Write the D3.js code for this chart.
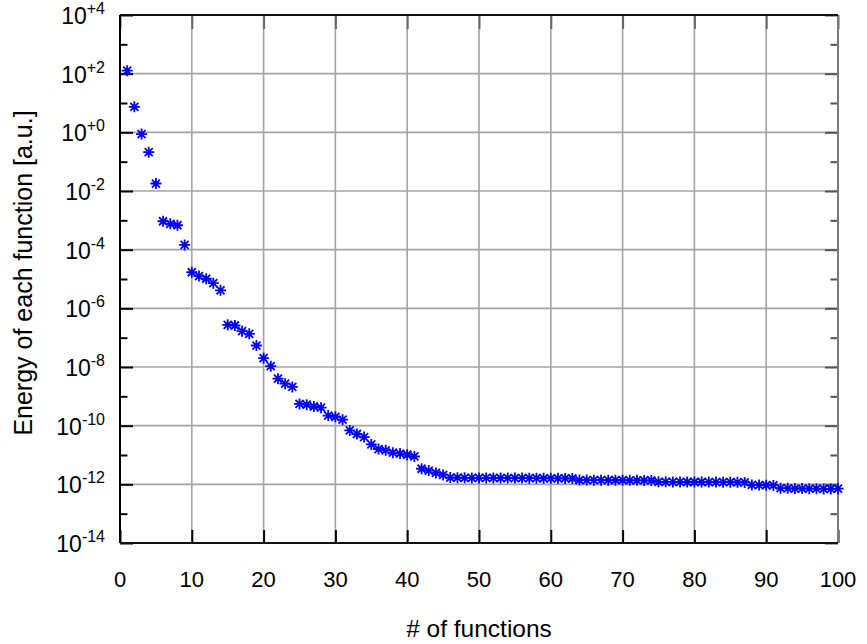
<!DOCTYPE html>
<html>
<head>
<meta charset="utf-8">
<script src="https://cdn.jsdelivr.net/npm/d3@7"></script>
<style>
  html, body { margin: 0; padding: 0; background: #fff; }
  svg { display: block; }
  text { font-family: "Liberation Sans", Arial, Helvetica, sans-serif; fill: #000; }
</style>
</head>
<body>
<div id="chart"></div>
<script>
// ---- data ----
const functionIndex = d3.range(1, 101);
const energy = [
  1.26e2, 7.4e0, 8.7e-1, 2.1e-1, 1.8e-2, 9.3e-4, 7.6e-4, 6.8e-4, 1.45e-4, 1.7e-5,
  1.26e-5, 1.02e-5, 7.2e-6, 4.1e-6, 2.75e-7, 2.6e-7, 1.66e-7, 1.35e-7, 5.4e-8, 2.0e-8,
  1.07e-8, 4.0e-9, 2.7e-9, 2.1e-9, 5.5e-10, 5.2e-10, 4.5e-10, 4.1e-10, 2.2e-10, 2.0e-10,
  1.6e-10, 6.9e-11, 5.2e-11, 4.1e-11, 2.3e-11, 1.6e-11, 1.45e-11, 1.2e-11, 1.12e-11, 1.02e-11,
  8.9e-12, 3.4e-12, 2.95e-12, 2.45e-12, 2.1e-12, 1.7e-12, 1.68e-12, 1.67e-12, 1.66e-12, 1.66e-12,
  1.65e-12, 1.65e-12, 1.64e-12, 1.64e-12, 1.63e-12, 1.63e-12, 1.62e-12, 1.62e-12, 1.61e-12, 1.6e-12,
  1.6e-12, 1.59e-12, 1.58e-12, 1.4e-12, 1.4e-12, 1.39e-12, 1.39e-12, 1.38e-12, 1.38e-12, 1.38e-12,
  1.37e-12, 1.37e-12, 1.36e-12, 1.35e-12, 1.22e-12, 1.22e-12, 1.21e-12, 1.21e-12, 1.2e-12, 1.2e-12,
  1.2e-12, 1.19e-12, 1.19e-12, 1.18e-12, 1.18e-12, 1.17e-12, 1.16e-12, 9.5e-13, 9.4e-13, 9.3e-13,
  9.2e-13, 7.4e-13, 7.3e-13, 7.2e-13, 7.2e-13, 7.1e-13, 7.1e-13, 7.0e-13, 7.0e-13, 7.1e-13
];
const xTicks = [0, 10, 20, 30, 40, 50, 60, 70, 80, 90, 100];
const yMajorExp = [4, 2, 0, -2, -4, -6, -8, -10, -12, -14];
const yMajorLabels = ["+4", "+2", "+0", "-2", "-4", "-6", "-8", "-10", "-12", "-14"];
const yMinorExp = [3, 1, -1, -3, -5, -7, -9, -11, -13];
const xTitle = "# of functions";
const yTitle = "Energy of each function [a.u.]";

// ---- layout ----
const W = 867, H = 644;
const L = 120, R = 838, T = 15, B = 543;

const svg = d3.select("#chart").append("svg").attr("width", W).attr("height", H);

const x = d3.scaleLinear().domain([0, 100]).range([L, R]);
const y = d3.scaleLog().domain([1e-14, 1e4]).range([B, T]);

// grid
const grid = svg.append("g").attr("stroke", "#a3a3a3").attr("stroke-width", 1.6);
grid.selectAll("line.vx").data(xTicks.slice(1, -1)).join("line")
  .attr("x1", d => x(d)).attr("x2", d => x(d)).attr("y1", T).attr("y2", B);
grid.selectAll("line.hy").data(yMajorExp.slice(1, -1)).join("line")
  .attr("x1", L).attr("x2", R).attr("y1", d => y(Math.pow(10, d))).attr("y2", d => y(Math.pow(10, d)));

// ticks via d3 axes (inward)
const tickVals = yMajorExp.map(e => Math.pow(10, e));
const minorVals = yMinorExp.map(e => Math.pow(10, e));

function styleAxis(g, color) {
  g.select(".domain").remove();
  g.selectAll(".tick line").attr("stroke", color).attr("stroke-width", 2);
  g.selectAll(".tick text").remove();
}
// left
svg.append("g").attr("transform", `translate(${L},0)`)
  .call(d3.axisRight(y).tickValues(tickVals).tickSize(13).tickFormat(""))
  .call(g => styleAxis(g, "#000"));
svg.append("g").attr("transform", `translate(${L},0)`)
  .call(d3.axisRight(y).tickValues(minorVals).tickSize(7.5).tickFormat(""))
  .call(g => styleAxis(g, "#000"));
// right
svg.append("g").attr("transform", `translate(${R},0)`)
  .call(d3.axisLeft(y).tickValues(tickVals).tickSize(13).tickFormat(""))
  .call(g => styleAxis(g, "#555"));
svg.append("g").attr("transform", `translate(${R},0)`)
  .call(d3.axisLeft(y).tickValues(minorVals).tickSize(7.5).tickFormat(""))
  .call(g => styleAxis(g, "#555"));
// bottom
svg.append("g").attr("transform", `translate(0,${B})`)
  .call(d3.axisTop(x).tickValues(xTicks).tickSize(13).tickFormat(""))
  .call(g => styleAxis(g, "#000"));
// top
svg.append("g").attr("transform", `translate(0,${T})`)
  .call(d3.axisBottom(x).tickValues(xTicks).tickSize(14).tickFormat(""))
  .call(g => styleAxis(g, "#666"));

// border
svg.append("line").attr("x1", R).attr("x2", R).attr("y1", T).attr("y2", B).attr("stroke", "#7a7a7a").attr("stroke-width", 2);
svg.append("line").attr("x1", L).attr("x2", R).attr("y1", T).attr("y2", T).attr("stroke", "#111").attr("stroke-width", 2);
svg.append("line").attr("x1", L).attr("x2", R).attr("y1", B).attr("y2", B).attr("stroke", "#111").attr("stroke-width", 2);
svg.append("line").attr("x1", L).attr("x2", L).attr("y1", T).attr("y2", B).attr("stroke", "#000").attr("stroke-width", 2);

// y tick labels
const yl = svg.append("g").selectAll("text").data(yMajorExp).join("text")
  .attr("x", 105).attr("y", d => y(Math.pow(10, d)) + 9)
  .attr("text-anchor", "end").attr("font-size", 23);
yl.append("tspan").text("10");
yl.append("tspan").attr("dy", -10).attr("font-size", 16).text((d, i) => yMajorLabels[i]);

// x tick labels
svg.append("g").selectAll("text").data(xTicks).join("text")
  .attr("x", d => x(d)).attr("y", 587)
  .attr("text-anchor", "middle").attr("font-size", 22)
  .text(d => d);

// titles
svg.append("text").attr("x", (L + R) / 2).attr("y", 637).attr("text-anchor", "middle")
  .attr("font-size", 24.5).text(xTitle);
svg.append("text").attr("transform", `translate(32,${(T + B) / 2 - 6}) rotate(-90)`)
  .attr("text-anchor", "middle").attr("font-size", 25).text(yTitle);

// points: gnuplot-style "*" (plus + cross)
const s = 5.5, d2 = 4;
const star = `M${-s},0L${s},0M0,${-s}L0,${s}M${-d2},${-d2}L${d2},${d2}M${-d2},${d2}L${d2},${-d2}`;
svg.append("g").selectAll("path").data(energy).join("path")
  .attr("transform", (v, i) => `translate(${x(functionIndex[i])},${y(v)})`)
  .attr("d", star)
  .attr("fill", "none").attr("stroke", "#0000ff").attr("stroke-width", 1.8);
</script>
</body>
</html>
